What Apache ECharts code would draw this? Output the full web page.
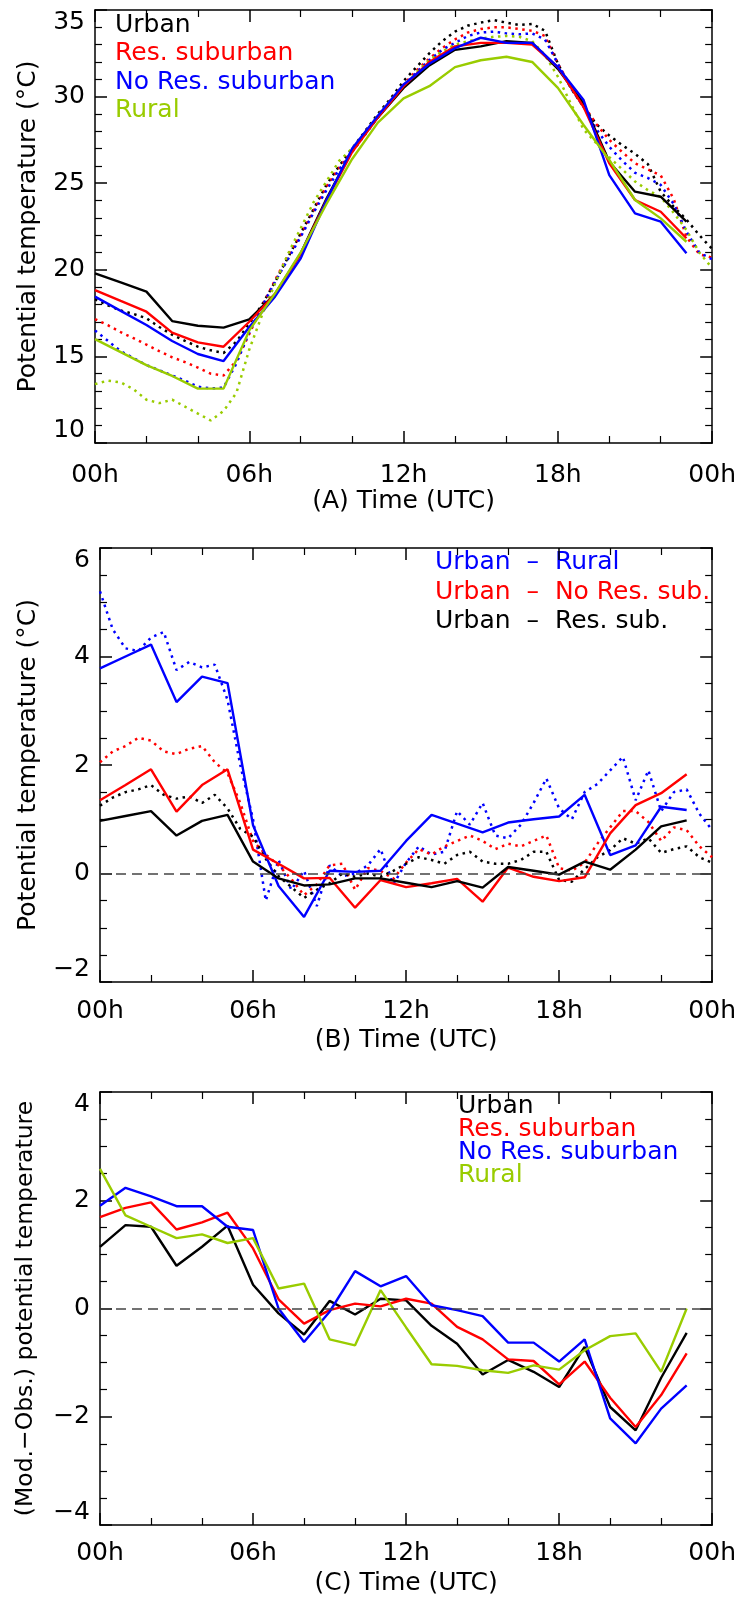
<!DOCTYPE html>
<html>
<head>
<meta charset="utf-8">
<script src="https://cdn.jsdelivr.net/npm/echarts@6/dist/echarts.min.js"></script>
<style>
  html, body { margin: 0; padding: 0; background: #fff; }
  #chart { width: 739px; height: 1600px; }
</style>
</head>
<body>
<div id="chart"></div>
<script>
// ---- time axes ----
const hours = [0,1,2,3,4,5,6,7,8,9,10,11,12,13,14,15,16,17,18,19,20,21,22,23];
const halfHours = [0,0.5,1,1.5,2,2.5,3,3.5,4,4.5,5,5.5,6,6.5,7,7.5,8,8.5,9,9.5,10,10.5,11,11.5,
  12,12.5,13,13.5,14,14.5,15,15.5,16,16.5,17,17.5,18,18.5,19,19.5,20,20.5,21,21.5,22,22.5,23,23.5,24];
const xTickValues = [0, 6, 12, 18, 24];
const xTickLabels = ['00h', '06h', '12h', '18h', '00h'];

// ---- panel A: potential temperature (°C), model (solid) and observed (dotted) ----
const urbanA    = [19.8,19.27,18.74,17.04,16.77,16.66,17.14,18.6,20.95,24.1,26.9,28.8,30.5,31.8,32.7,32.9,33.2,33.1,31.6,29.6,26.24,24.51,24.22,22.78];
const resSubA   = [18.83,18.2,17.58,16.37,15.81,15.56,17.0,18.6,20.9,24.0,26.8,28.8,30.6,32.0,32.9,33.1,33.1,33.0,31.7,29.4,26.15,24.03,23.35,21.82];
const noResSubA = [18.45,17.63,16.81,15.89,15.14,14.73,16.7,18.45,20.66,24.0,27.0,28.9,30.7,31.9,32.8,33.4,33.1,33.1,31.7,29.8,25.47,23.26,22.78,20.95];
const ruralA    = [16.0,15.25,14.5,13.87,13.14,13.14,16.5,18.64,21.0,23.8,26.4,28.5,29.9,30.6,31.7,32.1,32.3,32.0,30.5,28.36,26.34,24.03,22.97,21.62];

const urbanObsA    = [18.3,17.95,17.65,17.45,17.2,16.7,16.25,15.9,15.56,15.35,15.2,15.85,16.9,18.0,19.3,20.7,22.1,23.5,24.9,26.0,27.0,28.0,29.0,29.9,
  30.9,31.7,32.5,33.2,33.75,34.1,34.27,34.42,34.27,34.13,34.2,33.8,31.9,30.5,29.4,28.4,27.75,27.2,26.7,26.1,24.5,23.65,22.9,22.0,21.2];
const resSubObsA   = [17.15,16.8,16.4,16.05,15.68,15.3,14.95,14.67,14.35,14.0,13.9,14.75,16.3,17.9,19.4,20.8,22.0,23.4,24.8,25.9,26.9,27.9,28.9,29.8,
  30.7,31.5,32.2,32.8,33.3,33.7,33.9,34.0,34.0,33.9,33.8,33.5,31.9,30.6,29.5,28.4,27.5,26.8,26.15,25.8,25.45,24.1,21.9,20.9,20.7];
const noResSubObsA = [16.5,15.9,15.3,14.9,14.5,14.2,13.9,13.6,13.25,13.15,13.2,14.6,16.4,17.9,19.3,20.6,21.9,23.3,24.6,25.8,26.8,27.8,28.8,29.7,
  30.6,31.4,32.1,32.7,33.1,33.5,33.7,33.75,33.65,33.6,33.65,33.3,31.9,30.5,29.4,28.1,27.1,26.3,25.6,25.3,24.9,23.8,22.2,21.0,20.6];
const ruralObsA    = [13.4,13.6,13.5,13.1,12.5,12.3,12.5,12.1,11.7,11.3,11.85,12.9,15.4,17.4,19.2,20.9,22.4,23.9,25.1,26.3,27.0,27.9,28.9,29.8,
  30.6,31.4,32.1,32.6,33.0,33.2,33.35,33.45,33.5,33.45,33.2,32.4,31.15,29.6,28.1,27.3,26.5,25.8,25.1,24.6,24.2,23.3,22.3,21.0,20.1];

// ---- panel B: urban minus other sites, model (solid) and observed (dotted) ----
const urbanRuralB = [3.78,4.0,4.22,3.16,3.63,3.51,0.89,-0.23,-0.8,0.05,0.03,0.05,0.6,1.08,0.92,0.76,0.94,1.0,1.05,1.45,0.34,0.52,1.23,1.17];
const urbanNoResB = [1.35,1.63,1.92,1.14,1.63,1.92,0.44,0.18,-0.09,-0.08,-0.63,-0.12,-0.25,-0.18,-0.1,-0.52,0.11,-0.06,-0.14,-0.07,0.74,1.26,1.48,1.83];
const urbanResB   = [0.97,1.06,1.15,0.70,0.97,1.08,0.22,-0.09,-0.22,-0.20,-0.09,-0.09,-0.17,-0.25,-0.14,-0.26,0.12,0.05,-0.02,0.22,0.07,0.44,0.87,0.98];

const urbanRuralObsB = [5.2,4.5,4.15,4.1,4.35,4.45,3.75,3.9,3.8,3.85,3.2,2.0,1.0,-0.5,0.25,-0.3,0.05,-0.6,0.15,-0.05,0.0,0.15,0.45,-0.2,
  0.2,0.5,0.35,0.4,1.15,0.9,1.3,0.7,0.65,0.9,1.3,1.75,1.2,1.0,1.5,1.65,1.9,2.15,1.35,1.9,1.15,1.5,1.55,1.1,0.8];
const urbanNoResObsB = [2.05,2.25,2.35,2.5,2.45,2.25,2.2,2.3,2.35,2.05,1.85,1.3,0.6,0.35,0.15,-0.1,-0.4,-0.2,0.15,0.18,-0.3,0.1,0.05,-0.1,
  0.2,0.45,0.35,0.5,0.6,0.7,0.6,0.45,0.55,0.5,0.6,0.7,0.1,0.05,0.2,0.55,0.85,1.15,1.15,0.95,0.6,0.85,0.8,0.5,0.3];
const urbanResObsB   = [1.25,1.4,1.5,1.55,1.63,1.45,1.38,1.42,1.3,1.45,1.2,0.82,0.68,0.27,-0.05,-0.25,-0.45,-0.3,-0.18,0.0,-0.06,0.0,-0.06,0.05,
  0.18,0.3,0.25,0.18,0.34,0.4,0.22,0.18,0.18,0.25,0.4,0.4,-0.12,-0.15,0.08,0.3,0.43,0.65,0.55,0.65,0.38,0.45,0.5,0.3,0.2];

// ---- panel C: model minus observation ----
const urbanC    = [1.14,1.54,1.51,0.79,1.14,1.53,0.44,-0.09,-0.48,0.14,-0.11,0.18,0.15,-0.32,-0.65,-1.22,-0.95,-1.17,-1.45,-0.71,-1.82,-2.25,-1.28,-0.45];
const resSubC   = [1.69,1.86,1.96,1.46,1.59,1.77,1.11,0.17,-0.28,-0.03,0.09,0.04,0.18,0.09,-0.34,-0.57,-0.94,-0.97,-1.4,-0.98,-1.65,-2.19,-1.6,-0.83];
const noResSubC = [1.9,2.23,2.07,1.89,1.89,1.51,1.45,0.0,-0.62,-0.06,0.69,0.41,0.6,0.06,-0.03,-0.14,-0.63,-0.63,-0.98,-0.57,-2.03,-2.49,-1.85,-1.42];
const ruralC    = [2.58,1.72,1.51,1.30,1.37,1.21,1.30,0.37,0.46,-0.57,-0.68,0.34,-0.35,-1.03,-1.06,-1.14,-1.19,-1.05,-1.13,-0.77,-0.51,-0.46,-1.17,0.0];

// ---- styling ----
const FONT = 'DejaVu Sans';
const FS = 25;
const BLACK = '#000000', RED = '#ff0000', BLUE = '#0000ff', GREEN = '#99cc00';
const DOT = [2.5, 4.5];

const grids = [
  { left: 95,  top: 10,   width: 618, height: 433 },
  { left: 100, top: 548,  width: 613, height: 434 },
  { left: 100, top: 1092, width: 613, height: 433 }
];

const lineAxis = { show: true, onZero: false, lineStyle: { color: BLACK, width: 1.5 } };
const majorTick = { show: true, inside: true, length: 12, lineStyle: { color: BLACK, width: 1.5 } };

function xAxesFor(g, name, labelMargin) {
  const common = {
    gridIndex: g, type: 'value', min: 0, max: 24, interval: 6,
    axisLine: lineAxis, axisTick: majorTick,
    minorTick: { show: true, splitNumber: 3, length: 7, lineStyle: { color: BLACK, width: 1.2 } },
    splitLine: { show: false }, minorSplitLine: { show: false }
  };
  return [
    Object.assign({}, common, {
      position: 'bottom',
      axisLabel: { show: true, margin: labelMargin, fontSize: FS, color: BLACK, fontFamily: FONT,
        formatter: v => xTickLabels[xTickValues.indexOf(v)] },
      name: name, nameLocation: 'middle', nameGap: 46,
      nameTextStyle: { fontSize: FS, color: BLACK, fontFamily: FONT }
    }),
    Object.assign({}, common, { position: 'top', axisLabel: { show: false } })
  ];
}

function yAxesFor(g, min, max, interval, minorSplit, name, nameGap, nameSize) {
  const common = {
    gridIndex: g, type: 'value', min: min, max: max, interval: interval,
    axisLine: lineAxis, axisTick: majorTick,
    minorTick: { show: true, splitNumber: minorSplit, length: 7, lineStyle: { color: BLACK, width: 1.2 } },
    splitLine: { show: false }, minorSplitLine: { show: false }
  };
  return [
    Object.assign({}, common, {
      position: 'left',
      axisLabel: { show: true, margin: 10, fontSize: FS, color: BLACK, fontFamily: FONT,
        verticalAlignMinLabel: 'bottom', verticalAlignMaxLabel: 'top',
        formatter: v => (v < 0 ? '\u2212' + (-v) : String(v)) },
      name: name, nameLocation: 'middle', nameGap: nameGap, nameRotate: 90,
      nameTextStyle: { fontSize: nameSize, color: BLACK, fontFamily: FONT }
    }),
    Object.assign({}, common, { position: 'right', axisLabel: { show: false } })
  ];
}

function line(panel, times, values, color, dotted, extra) {
  return Object.assign({
    type: 'line',
    xAxisIndex: panel * 2, yAxisIndex: panel * 2,
    data: times.map((t, i) => [t, values[i]]),
    symbol: 'none', showSymbol: false, silent: true,
    z: dotted ? 2 : 3,
    lineStyle: { color: color, width: dotted ? 2.5 : 2.4, type: dotted ? DOT : 'solid', cap: 'butt' }
  }, extra || {});
}

const zeroLine = {
  markLine: {
    silent: true, symbol: 'none', label: { show: false }, animation: false,
    lineStyle: { color: '#444', width: 1.5, type: [10, 6] },
    data: [{ yAxis: 0 }]
  }
};

function legendText(x, y, text, color) {
  return { type: 'text', x: x, y: y, silent: true,
    style: { text: text, fill: color, font: FS + 'px "' + FONT + '"', verticalAlign: 'middle' } };
}

const option = {
  animation: false,
  backgroundColor: '#ffffff',
  textStyle: { fontFamily: FONT },
  grid: grids,
  xAxis: [].concat(
    xAxesFor(0, '(A) Time (UTC)', 20),
    xAxesFor(1, '(B) Time (UTC)', 17),
    xAxesFor(2, '(C) Time (UTC)', 16)
  ),
  yAxis: [].concat(
    yAxesFor(0, 10, 35, 5, 5, 'Potential temperature (\u00b0C)', 54, FS),
    yAxesFor(1, -2, 6, 2, 4, 'Potential temperature (\u00b0C)', 59, FS),
    yAxesFor(2, -4, 4, 2, 4, '(Mod.\u2212Obs.) potential temperature', 62, 23.5)
  ),
  series: [
    // panel A
    line(0, halfHours, urbanObsA, BLACK, true),
    line(0, halfHours, resSubObsA, RED, true),
    line(0, halfHours, noResSubObsA, BLUE, true),
    line(0, halfHours, ruralObsA, GREEN, true),
    line(0, hours, urbanA, BLACK, false),
    line(0, hours, resSubA, RED, false),
    line(0, hours, noResSubA, BLUE, false),
    line(0, hours, ruralA, GREEN, false),
    // panel B
    line(1, halfHours, urbanRuralObsB, BLUE, true, zeroLine),
    line(1, halfHours, urbanNoResObsB, RED, true),
    line(1, halfHours, urbanResObsB, BLACK, true),
    line(1, hours, urbanRuralB, BLUE, false),
    line(1, hours, urbanNoResB, RED, false),
    line(1, hours, urbanResB, BLACK, false),
    // panel C
    line(2, hours, urbanC, BLACK, false, zeroLine),
    line(2, hours, resSubC, RED, false),
    line(2, hours, noResSubC, BLUE, false),
    line(2, hours, ruralC, GREEN, false)
  ],
  graphic: [
    legendText(115, 25, 'Urban', BLACK),
    legendText(115, 53, 'Res. suburban', RED),
    legendText(115, 82, 'No Res. suburban', BLUE),
    legendText(115, 110, 'Rural', GREEN),
    legendText(435, 562, 'Urban  \u2013  Rural', BLUE),
    legendText(435, 592, 'Urban  \u2013  No Res. sub.', RED),
    legendText(435, 621, 'Urban  \u2013  Res. sub.', BLACK),
    legendText(458, 1106, 'Urban', BLACK),
    legendText(458, 1129, 'Res. suburban', RED),
    legendText(458, 1152, 'No Res. suburban', BLUE),
    legendText(458, 1175, 'Rural', GREEN)
  ]
};

const chart = echarts.init(document.getElementById('chart'), null, { renderer: 'canvas' });
chart.setOption(option);
</script>
</body>
</html>
